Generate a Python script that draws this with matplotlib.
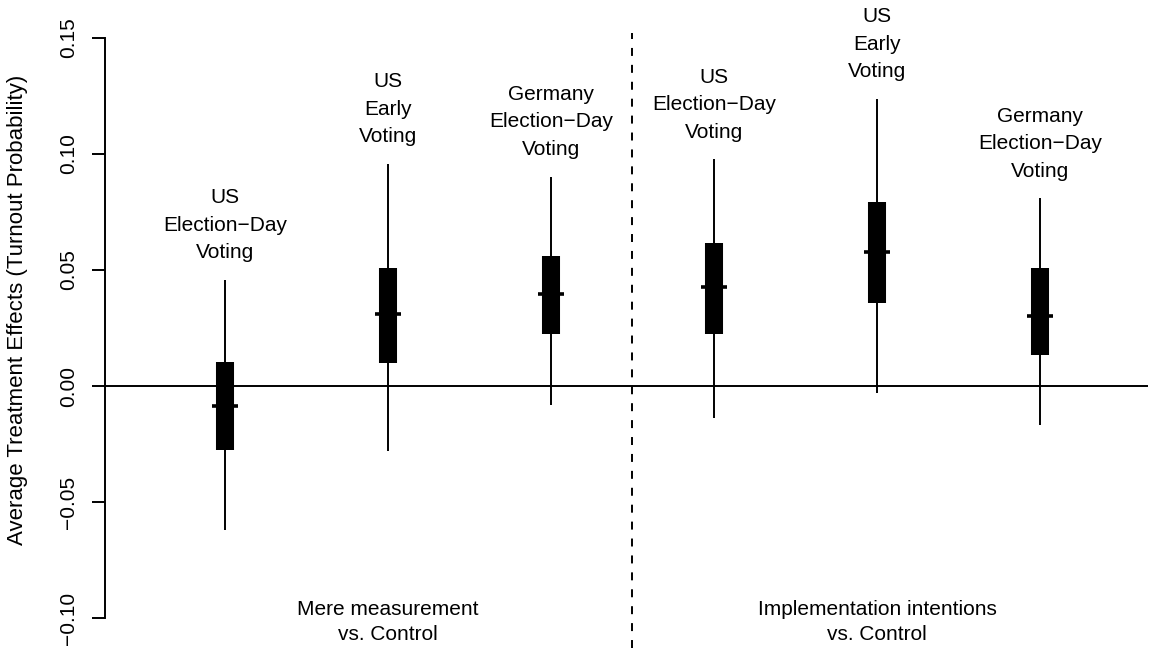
import matplotlib
matplotlib.use("Agg")
import matplotlib.pyplot as plt
from matplotlib.transforms import blended_transform_factory

plt.rcParams['font.family'] = ['Liberation Sans', 'DejaVu Sans']
plt.rcParams['axes.unicode_minus'] = True

# Treatment arms: label lines for each estimate
arm_labels = [
    ["US", "Election\u2212Day", "Voting"],
    ["US", "Early", "Voting"],
    ["Germany", "Election\u2212Day", "Voting"],
    ["US", "Election\u2212Day", "Voting"],
    ["US", "Early", "Voting"],
    ["Germany", "Election\u2212Day", "Voting"],
]
estimate = [-0.0086, 0.0310, 0.0397, 0.0425, 0.0579, 0.0303]
box_low = [-0.0276, 0.0100, 0.0224, 0.0224, 0.0356, 0.0134]
box_high = [0.0103, 0.0510, 0.0562, 0.0615, 0.0792, 0.0510]
ci_low = [-0.0620, -0.0280, -0.0082, -0.0139, -0.0031, -0.0168]
ci_high = [0.0457, 0.0957, 0.0903, 0.0978, 0.1237, 0.0809]

group_labels = [["Mere measurement", "vs. Control"],
                ["Implementation intentions", "vs. Control"]]
group_members = [[1, 2, 3], [4, 5, 6]]

y_ticks = [-0.10, -0.05, 0.00, 0.05, 0.10, 0.15]
y_label = "Average Treatment Effects (Turnout Probability)"

FS = 15
W, H = 1150, 650
fig = plt.figure(figsize=(W / 100, H / 100), dpi=100)
ax = fig.add_axes([105 / W, 2 / H, 1043 / W, 615 / H])
ax.set_xlim(0.264, 6.663)
ax.set_ylim(-0.11293, 0.15216)

xs = list(range(1, len(estimate) + 1))

# reference lines
ax.axhline(0, color='black', lw=1.4, zorder=1)
ax.axvline(3.5, color='black', lw=1.4, ls=(0, (4.1, 4.6)), zorder=1)

# intervals, boxes and point estimates
ax.vlines(xs, ci_low, ci_high, color='black', lw=1.4, zorder=2)
ax.vlines(xs, box_low, box_high, color='black', lw=13, capstyle='butt', zorder=3)
ax.hlines(estimate, [x - 0.08 for x in xs], [x + 0.08 for x in xs],
          color='black', lw=2.6, zorder=4)

# labels above each interval
for x, top, lines in zip(xs, ci_high, arm_labels):
    for j, line in enumerate(reversed(lines)):
        ax.annotate(line, xy=(x, top), xytext=(0, 15.5 + j * 19.8),
                    textcoords='offset points', ha='center', va='baseline',
                    fontsize=FS, annotation_clip=False)

# group captions at the bottom
trans = blended_transform_factory(ax.transData, fig.transFigure)
for members, lines in zip(group_members, group_labels):
    gx = sum(members) / len(members)
    for j, line in enumerate(lines):
        fig_y = 1 - (615 + j * 25) / H
        ax.text(gx, fig_y, line, transform=trans, ha='center', va='baseline',
                fontsize=FS)

# axis styling
for side in ['top', 'right', 'bottom']:
    ax.spines[side].set_visible(False)
ax.spines['left'].set_bounds(-0.10, 0.15)
ax.spines['left'].set_linewidth(1.4)
ax.set_xticks([])
ax.set_yticks(y_ticks)
ax.set_yticklabels([f"{v:.2f}".replace("-", "\u2212") for v in y_ticks])
ax.tick_params(axis='y', length=9.4, width=1.4, pad=10, labelsize=FS)
for lab in ax.get_yticklabels():
    lab.set_rotation(90)
    lab.set_va('center')
    lab.set_ha('right')

fig.text(18 / W, 1 - 310 / H, y_label, rotation=90, ha='center', va='center',
         fontsize=16)

fig.savefig("out.png", dpi=100, facecolor='white')
